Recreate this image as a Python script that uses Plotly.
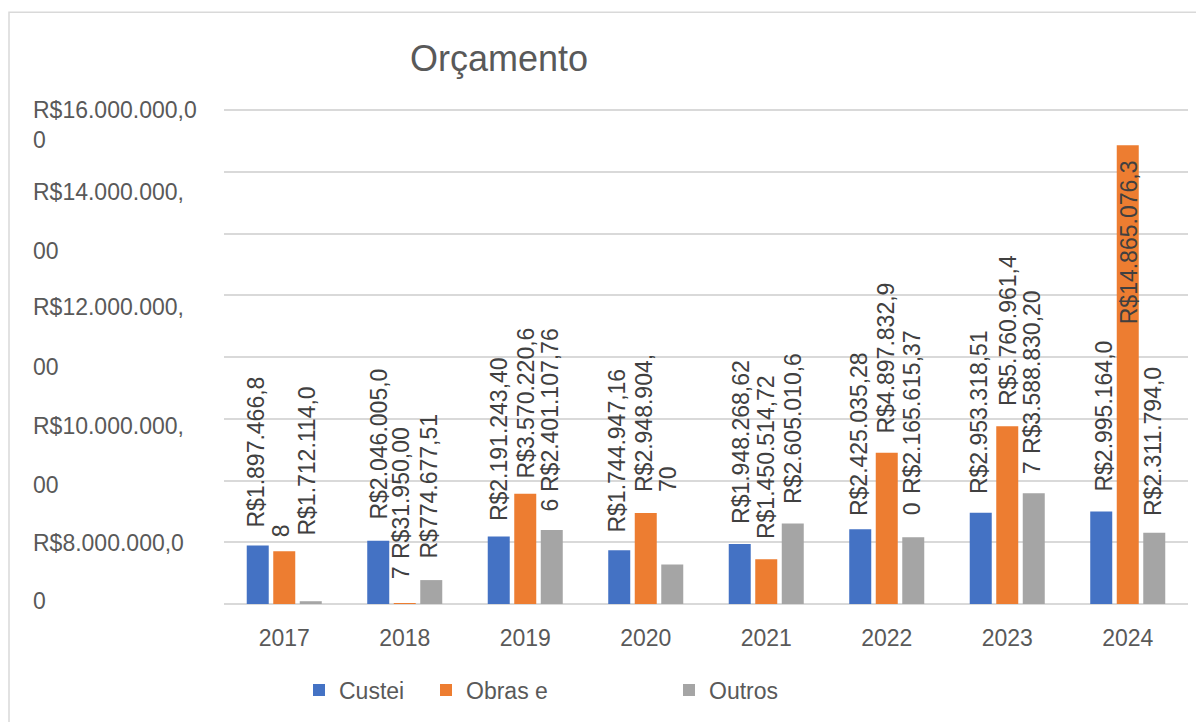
import plotly.graph_objects as go

# ---------------- data ----------------
years = ["2017", "2018", "2019", "2020", "2021", "2022", "2023", "2024"]
custeio = [1897466.88, 2046005.07, 2191243.40, 1744947.16, 1948268.62, 2425035.28, 2953318.51, 2995164.00]
obras = [1712114.07, 31950.00, 3570220.66, 2948904.70, 1450514.72, 4897832.90, 5760961.47, 14865076.30]
outros = [90000.00, 774677.51, 2401107.76, 1280000.00, 2605010.60, 2165615.37, 3588830.20, 2311794.00]

series_names = ["Custei", "Obras e", "Outros"]
series_colors = ["#4472C4", "#ED7D31", "#A5A5A5"]

# visible (wrapped / clipped) data-label lines
custeio_labels = [["R$1.897.466,8", "8"], ["R$2.046.005,0", "7"], ["R$2.191.243,40"], ["R$1.744.947,16"],
                  ["R$1.948.268,62"], ["R$2.425.035,28"], ["R$2.953.318,51"], ["R$2.995.164,0"]]
obras_labels = [["R$1.712.114,0"], ["R$31.950,00"], ["R$3.570.220,6", "6"], ["R$2.948.904,", "70"],
                ["R$1.450.514,72"], ["R$4.897.832,9", "0"], ["R$5.760.961,4", "7"], ["R$14.865.076,3"]]
outros_labels = [[], ["R$774.677,51"], ["R$2.401.107,76"], [], ["R$2.605.010,6"], ["R$2.165.615,37"],
                 ["R$3.588.830,20"], ["R$2.311.794,0"]]

# y-axis label lines (as rendered, wrapped) and their value positions
ytick_text = ["R$16.000.000,0<br>0", "R$14.000.000,", "00", "R$12.000.000,", "00",
              "R$10.000.000,", "00", "R$8.000.000,0", "0"]
ytick_pos = [15.53e6, 13.34e6, 11.43e6, 9.62e6, 7.68e6, 5.77e6, 3.85e6, 1.98e6, 0.10e6]

title_text = "Orçamento"

# ---------------- style / layout ----------------
W, H = 1204, 722
OFF = 8                      # page body margin in the browser
Y_MAX = 16e6
Y_TOP = 16.04e6              # a little headroom so the top gridline is drawn
PLOT_L, PLOT_R, PLOT_B = 224 - OFF, 1188 - OFF, 604 - OFF
PX_PER_VAL = 494 / Y_MAX
PH = Y_TOP * PX_PER_VAL
PW = PLOT_R - PLOT_L
ML, MR, MB = PLOT_L, W - PLOT_R, H - PLOT_B
MT = H - MB - PH
BARGAP = 0.34
BARGROUPGAP = 0.17
FONT = "Liberation Sans, Arial, sans-serif"
LABEL_COLOR = "#404040"
AXIS_COLOR = "#595959"
GRID = "#D9D9D9"


def px_x(px):   # reference pixel -> paper x
    return (px - OFF - PLOT_L) / PW


def px_y(py):   # reference pixel -> paper y
    return (PLOT_B - (py - OFF)) / PH


# label line offsets (dx px from bar centre, gap px above bar top) -- style only
custeio_lbl_pos = [[(-1.75, 17.4), (23, 7.4)], [(0.75, 20.8), (22.75, -39)], [(0.25, 14.3)], [(-1.75, 17.1)],
                   [(1.25, 18.9)], [(-1.25, 12.1)], [(-1.75, 17.8)], [(2.75, 19.5)]]
obras_lbl_pos = [[(22.75, 14.1)], [(-3.75, 43)], [(0.75, 13.8), (24.75, -19.2)], [(-1.75, 20), (22.25, 20)],
                 [(-0.25, 19.2)], [(-0.75, 17.8), (25, -63.2)], [(0.25, 19.1), (24.5, -48.9)], [(1.25, -180)]]
outros_lbl_pos = [[], [(-2.25, 20.1)], [(-1.75, 36.9)], [], [(-0.25, 18.6)], [(-1.25, 42.1)],
                  [(-1.75, 38.2)], [(-1.75, 15.6)]]

# legend entry positions (reference px of item start) -- style only
legend_ids = ["legend", "legend2", "legend3"]
legend_x_px = [299, 426, 669]
legend_y_px = 690

fig = go.Figure()
all_series = [custeio, obras, outros]
for name, vals, col, lg in zip(series_names, all_series, series_colors, legend_ids):
    fig.add_trace(go.Bar(x=years, y=vals, name=name, legend=lg, showlegend=True,
                         marker=dict(color=col, line=dict(width=0))))

# bar centre offsets within a category group
cat_px = PW / len(years)
slot = cat_px * (1 - BARGAP) / 3
offsets = [-slot, 0, slot]

annotations = []
for s, (vals, labels, poss) in enumerate(zip(all_series,
                                            [custeio_labels, obras_labels, outros_labels],
                                            [custeio_lbl_pos, obras_lbl_pos, outros_lbl_pos])):
    for i, yr in enumerate(years):
        for line, (dx, gap) in zip(labels[i], poss[i]):
            annotations.append(dict(
                x=i, y=vals[i], xref="x", yref="y", text=line, textangle=-90,
                showarrow=False, xanchor="center", yanchor="bottom",
                xshift=offsets[s] + dx, yshift=gap, borderpad=0,
                font=dict(family=FONT, size=23, color=LABEL_COLOR)))

for txt, pos in zip(ytick_text, ytick_pos):
    annotations.append(dict(
        x=px_x(32), y=pos, xref="paper", yref="y", text=txt, showarrow=False,
        xanchor="left", yanchor="middle", align="left", borderpad=0,
        font=dict(family=FONT, size=23, color=AXIS_COLOR)))

legend_common = dict(orientation="h", xanchor="left", yanchor="middle", y=px_y(legend_y_px),
                     font=dict(family=FONT, size=23, color=AXIS_COLOR), itemwidth=30,
                     bgcolor="rgba(0,0,0,0)")
legends = {lg: dict(legend_common, x=px_x(xp)) for lg, xp in zip(legend_ids, legend_x_px)}

fig.update_layout(
    width=W, height=H,
    showlegend=True,
    margin=dict(l=ML, r=MR, t=MT, b=MB, autoexpand=False),
    paper_bgcolor="white", plot_bgcolor="white",
    barmode="group", bargap=BARGAP, bargroupgap=BARGROUPGAP,
    title=dict(text=title_text, x=(499 - OFF) / W, xanchor="center", y=1 - (58 - OFF) / H, yanchor="middle",
               font=dict(family=FONT, size=36, color=AXIS_COLOR)),
    xaxis=dict(type="category", range=[-0.5, len(years) - 0.5], autorange=False,
               showgrid=False, showline=False, zeroline=False,
               ticks="outside", ticklen=13, tickcolor="rgba(0,0,0,0)",
               tickfont=dict(family=FONT, size=23, color=AXIS_COLOR)),
    yaxis=dict(range=[0, Y_TOP], autorange=False, tickmode="linear", tick0=0, dtick=2e6,
               showgrid=True, gridcolor=GRID, gridwidth=1.5,
               zeroline=True, zerolinecolor=GRID, zerolinewidth=1.5,
               showticklabels=False, showline=False),
    annotations=annotations,
    shapes=[dict(type="rect", xref="paper", yref="paper",
                 x0=px_x(9), x1=px_x(1225), y0=px_y(745), y1=px_y(12),
                 line=dict(color=GRID, width=1.5), fillcolor="rgba(0,0,0,0)", layer="below")],
    **legends,
)

fig.write_html("out.html")
